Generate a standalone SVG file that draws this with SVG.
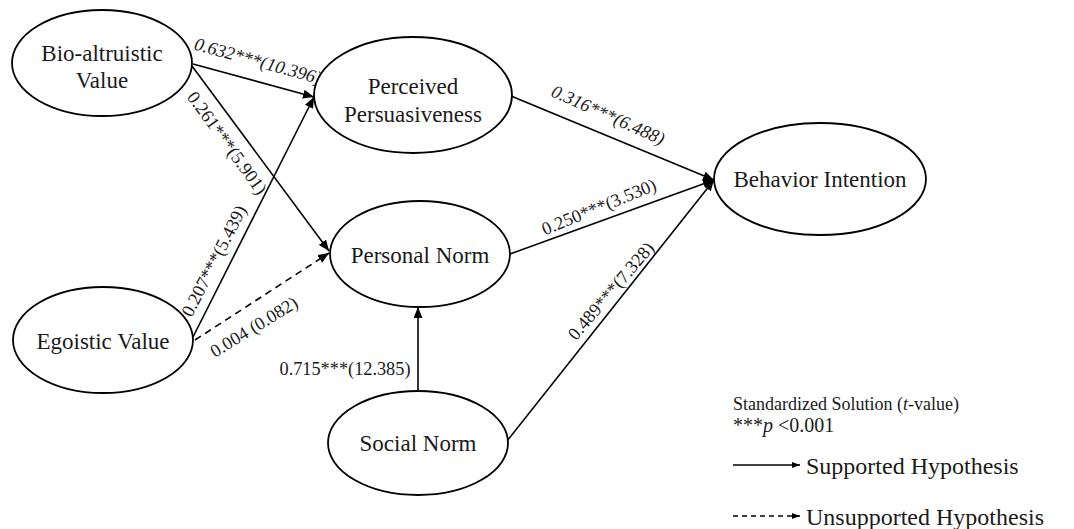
<svg xmlns="http://www.w3.org/2000/svg" width="1074" height="529" viewBox="0 0 1074 529">
<style>
.node ellipse{fill:#fff;stroke:#000;stroke-width:1.8}
.node text{font-family:"Liberation Serif","Times New Roman",serif;font-size:23px;fill:#1a1a1a;text-anchor:middle}
.edge{stroke:#000;stroke-width:1.6;fill:none}
.dash{stroke-dasharray:7,5}
.lbl{font-family:"Liberation Serif","Times New Roman",serif;font-size:18.3px;fill:#1a1a1a;text-anchor:middle}
.it{font-style:italic}
.leg{font-family:"Liberation Serif","Times New Roman",serif;font-size:18px;fill:#1a1a1a}
.leg2{font-family:"Liberation Serif","Times New Roman",serif;font-size:24px;fill:#1a1a1a}
</style>
<defs>
<marker id="ah" markerUnits="userSpaceOnUse" markerWidth="12" markerHeight="9" refX="11" refY="4.5" orient="auto">
<path d="M0,0 L11,4.5 L0,9 z" fill="#000"/>
</marker>
<marker id="ahs" markerUnits="userSpaceOnUse" markerWidth="9" markerHeight="6" refX="8" refY="3" orient="auto">
<path d="M0,0 L8,3 L0,6 z" fill="#000"/>
</marker>
</defs>
<rect width="1074" height="529" fill="#fff"/>
<g id="connectors">
<line class="edge" x1="193" y1="64" x2="314" y2="97" marker-end="url(#ah)"/>
<line class="edge" x1="192" y1="66" x2="329" y2="251" marker-end="url(#ah)"/>
<line class="edge" x1="193" y1="337" x2="314" y2="97" marker-end="url(#ah)"/>
<line class="edge dash" x1="195" y1="340" x2="329" y2="253" marker-end="url(#ah)"/>
<line class="edge" x1="511" y1="96" x2="714" y2="180" marker-end="url(#ah)"/>
<line class="edge" x1="510" y1="254" x2="714" y2="180" marker-end="url(#ah)"/>
<line class="edge" x1="507" y1="441" x2="714" y2="180" marker-end="url(#ah)"/>
<line class="edge" x1="418" y1="392" x2="418" y2="307" marker-end="url(#ah)"/>
</g>
<g id="labels">
<text class="lbl it" transform="translate(258,61) rotate(15.5)" y="6">0.632***(10.396)</text>
<text class="lbl" transform="translate(227,143) rotate(54)" y="6">0.261***(5.901)</text>
<text class="lbl" transform="translate(214,261) rotate(-63)" y="6">0.207***(5.439)</text>
<text class="lbl" transform="translate(254,327) rotate(-31.5)" y="6">0.004 (0.082)</text>
<text class="lbl it" transform="translate(608,115) rotate(24)" y="6">0.316***(6.488)</text>
<text class="lbl" transform="translate(599,207) rotate(-22)" y="6">0.250***(3.530)</text>
<text class="lbl" transform="translate(611,291) rotate(-49.5)" y="6">0.489***(7.328)</text>
<text class="lbl" x="345" y="375">0.715***(12.385)</text>
</g>
<g id="bio" class="node">
<ellipse cx="102" cy="63" rx="90" ry="53"/>
<text x="102" y="61">Bio-altruistic</text>
<text x="102" y="88">Value</text>
</g>
<g id="pp" class="node">
<ellipse cx="413" cy="95" rx="99" ry="58"/>
<text x="413" y="94">Perceived</text>
<text x="413" y="122">Persuasiveness</text>
</g>
<g id="pn" class="node">
<ellipse cx="420" cy="254" rx="90" ry="53"/>
<text x="420" y="263">Personal Norm</text>
</g>
<g id="bi" class="node">
<ellipse cx="820" cy="179" rx="106" ry="56"/>
<text x="820" y="187">Behavior Intention</text>
</g>
<g id="ego" class="node">
<ellipse cx="103" cy="340" rx="90" ry="53"/>
<text x="103" y="349">Egoistic Value</text>
</g>
<g id="sn" class="node">
<ellipse cx="418" cy="443" rx="90" ry="52"/>
<text x="418" y="451">Social Norm</text>
</g>
<g id="legend">
<text class="leg" x="733" y="410">Standardized Solution (<tspan font-style="italic">t</tspan>-value)</text>
<text class="leg" x="733" y="432" style="font-size:20px">***<tspan font-style="italic">p</tspan> &lt;0.001</text>
<line class="edge" x1="733" y1="465" x2="800" y2="465" stroke-width="1.4" marker-end="url(#ahs)"/>
<text class="leg2" x="806" y="474">Supported Hypothesis</text>
<line class="edge" x1="733" y1="516" x2="800" y2="516" stroke-width="1.4" stroke-dasharray="5,4" marker-end="url(#ahs)"/>
<text class="leg2" x="806" y="525">Unsupported Hypothesis</text>
</g>
</svg>
